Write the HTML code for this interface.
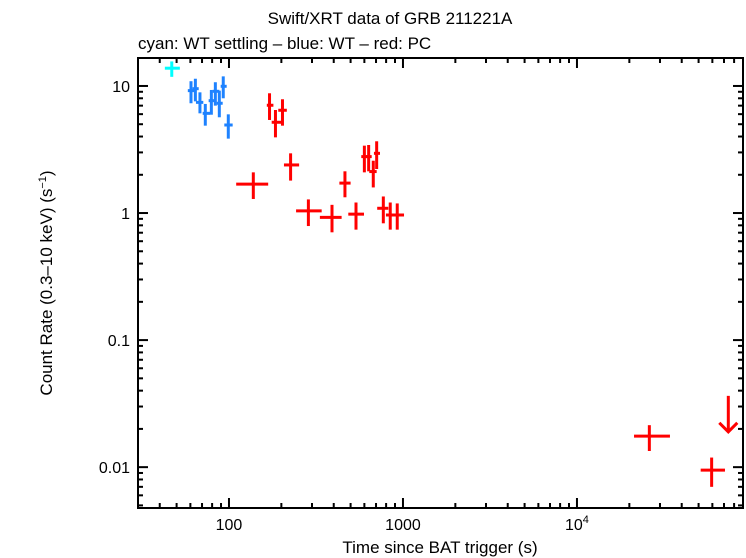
<!DOCTYPE html>
<html><head><meta charset="utf-8"><style>
body{margin:0;background:#fff;}
svg{display:block;font-family:"Liberation Sans",sans-serif;}
</style></head><body>
<svg id="chart" width="746" height="558" viewBox="0 0 746 558">
<text x="390" y="24" text-anchor="middle" font-size="17">Swift/XRT data of GRB 211221A</text>
<text x="138" y="49" font-size="17">cyan: WT settling – blue: WT – red: PC</text>
<text x="440" y="553" text-anchor="middle" font-size="17">Time since BAT trigger (s)</text>
<text transform="translate(52,283) rotate(-90)" text-anchor="middle" font-size="17">Count Rate (0.3–10 keV) (s<tspan font-size="11" dy="-6">−1</tspan><tspan dy="6">)</tspan></text>
<g id="marks"></g>
<rect x="138" y="58" width="605" height="450" fill="none" stroke="#000" stroke-width="2"/>
<g id="axes"></g>
</svg>
<script>
// [t, tlo, thi, rate, rlo, rhi]
const wtSettling = [[46.9,42.8,52.2,13.8,11.8,15.6]];
const wtData = [
[60.5,58.0,63.8,9.19,7.31,10.9],[64.1,61.8,67.0,9.52,7.57,11.4],[68.1,64.6,71.2,7.43,6.09,8.91],
[73.1,70.6,77.8,6.09,4.87,7.22],[79.2,76.4,83.5,7.66,5.94,9.30],[83.5,80.6,88.0,9.08,7.00,10.7],
[88.0,85.0,92.0,7.31,5.67,9.19],[92.7,89.6,97.0,9.94,8.0,11.9],[99.1,94.0,105,4.93,3.85,5.98]];
const pcData = [
[171,165,180,7.05,5.40,8.76],[185,176,201,5.18,3.94,6.47],[203,192,215,6.44,4.87,7.86],
[138,110,168,1.69,1.29,2.09],[226,207,253,2.39,1.80,2.95],[286,243,341,1.04,0.79,1.28],
[391,333,444,0.925,0.705,1.16],[464,431,500,1.72,1.33,2.13],[537,485,597,0.98,0.74,1.21],
[600,576,632,2.78,2.09,3.39],[635,613,661,2.78,2.13,3.43],[675,640,706,2.12,1.59,2.58],
[706,681,738,2.95,2.22,3.67],[771,711,824,1.09,0.83,1.35],[845,798,899,0.965,0.74,1.21],
[927,873,1014,0.965,0.74,1.19],[26060,21280,34230,0.01754,0.0134,0.0214],[59430,51400,70900,0.00947,0.0070,0.0119]];
const upperLimits = [[74100,0.0364]];
const xTickLabels = [100,1000,10000];
const yTickLabels = [0.01,0.1,1,10];

const X0=138,X1=743,Y0=58,Y1=508;
const xmin=Math.log10(30.0), xmax=Math.log10(90000);
const ymin=Math.log10(0.00477), ymax=Math.log10(16.6);
function sx(t){return X0+(Math.log10(t)-xmin)/(xmax-xmin)*(X1-X0);}
function sy(r){return Y1-(Math.log10(r)-ymin)/(ymax-ymin)*(Y1-Y0);}
const NS="http://www.w3.org/2000/svg";
const marks=document.getElementById('marks'), axes=document.getElementById('axes');
function line(p,x1,y1,x2,y2,c,w){const l=document.createElementNS(NS,'line');
l.setAttribute('x1',x1);l.setAttribute('y1',y1);l.setAttribute('x2',x2);l.setAttribute('y2',y2);
l.setAttribute('stroke',c);l.setAttribute('stroke-width',w);p.appendChild(l);return l;}
function series(data,color,name,w){
 data.forEach((d,i)=>{const g=document.createElementNS(NS,'g');
  
  
  line(g,sx(d[1]),sy(d[3]),sx(d[2]),sy(d[3]),color,w);
  line(g,sx(d[0]),sy(d[4]),sx(d[0]),sy(d[5]),color,w);
  marks.appendChild(g);});}
series(wtSettling,'#00ffff','wt-settling',3);
series(wtData,'#1e82ff','wt',3);
series(pcData,'#ff0000','pc',3);
upperLimits.forEach((d,i)=>{const g=document.createElementNS(NS,'g');
 
 
 const x=sx(d[0]),y=sy(d[1]),yt=y+36;
 line(g,x,y,x,yt,'#ff0000',3);
 const p=document.createElementNS(NS,'polyline');
 p.setAttribute('points',(x-9)+','+(yt-9)+' '+x+','+yt+' '+(x+9)+','+(yt-9));
 p.setAttribute('fill','none');p.setAttribute('stroke','#ff0000');p.setAttribute('stroke-width',3);
 g.appendChild(p);marks.appendChild(g);});
for(let e=1;e<=5;e++){for(let m=1;m<=9;m++){const t=m*Math.pow(10,e);
 if(t<30||t>90000)continue;const x=sx(t);const L=m==1?10:5;
 const a=line(axes,x,Y1,x,Y1-L,'#000',2);
 const b=line(axes,x,Y0,x,Y0+L,'#000',2);}}
for(let e=-3;e<=1;e++){for(let m=1;m<=9;m++){const r=m*Math.pow(10,e);
 if(r<0.00477||r>16.6)continue;const y=sy(r);const L=m==1?10:5;
 const a=line(axes,X0,y,X0+L,y,'#000',2);
 const b=line(axes,X1,y,X1-L,y,'#000',2);}}
xTickLabels.forEach(t=>{const tx=document.createElementNS(NS,'text');
 
 
 tx.setAttribute('x',sx(t));tx.setAttribute('y',530);tx.setAttribute('text-anchor','middle');tx.setAttribute('font-size',16);
 if(t===10000){tx.innerHTML='10<tspan font-size="11" dy="-7">4</tspan>';}else tx.textContent=t;
 axes.appendChild(tx);});
yTickLabels.forEach(r=>{const tx=document.createElementNS(NS,'text');
 
 
 tx.setAttribute('x',130);tx.setAttribute('y',sy(r)+6);tx.setAttribute('text-anchor','end');tx.setAttribute('font-size',16);
 tx.textContent=r;axes.appendChild(tx);});
</script>
</body></html>
